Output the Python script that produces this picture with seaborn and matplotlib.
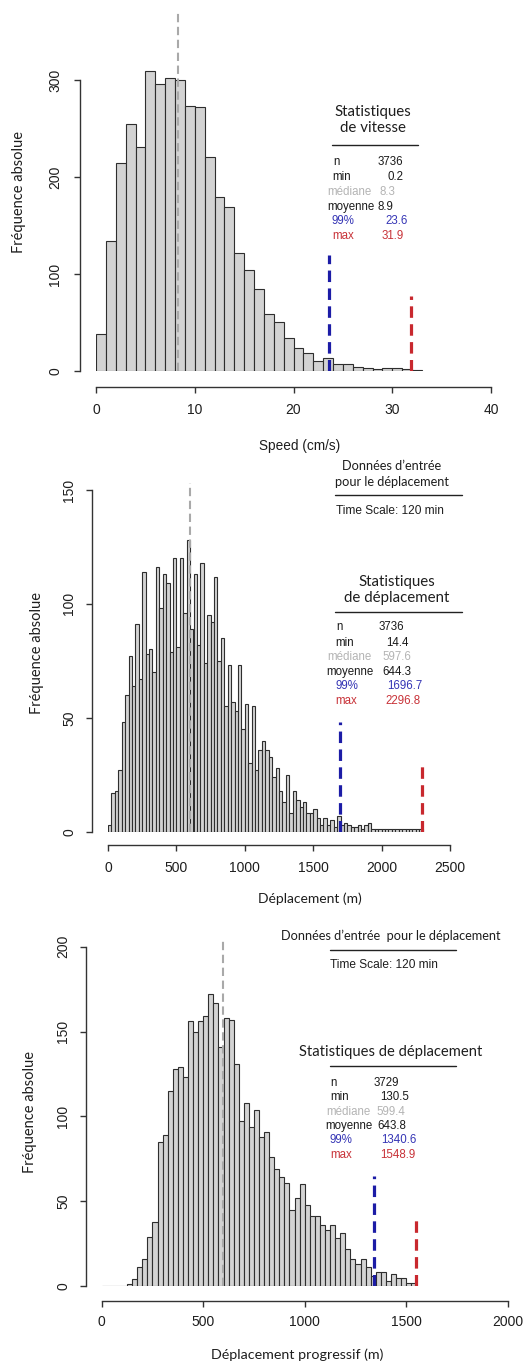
import numpy as np
import pandas as pd
import matplotlib
matplotlib.use("Agg")
import matplotlib.pyplot as plt
from matplotlib.lines import Line2D
import seaborn as sns

# ------------------------------------------------------------------ data
# speed histogram (1 cm/s bins starting at 0)
speed_bin_width = 1.0
speed_counts = [38, 134, 214, 255, 231, 309, 296, 302, 300, 273,
                272, 221, 179, 169, 122, 104, 85, 59, 50, 34,
                24, 19, 10, 13, 7, 7, 4, 3, 2, 3,
                3, 2, 1]

# displacement histogram (25 m bins starting at 0)
disp_bin_width = 25.0
disp_counts = [3, 17, 18, 27, 48, 60, 77, 64, 91, 67,
               114, 78, 80, 70, 116, 98, 113, 109, 79, 120,
               81, 120, 96, 128, 89, 113, 82, 118, 74, 95,
               92, 112, 75, 85, 55, 73, 57, 53, 73, 45,
               56, 30, 55, 27, 36, 40, 36, 33, 24, 28,
               18, 13, 25, 8, 18, 14, 11, 13, 8, 8,
               10, 6, 3, 6, 3, 5, 2, 7, 3, 4,
               3, 2, 2, 3, 1, 3, 4, 1, 1, 1,
               1, 1, 1, 1, 1, 1, 1, 1, 1, 1, 1, 1]

# progressive displacement histogram (25 m bins starting at 0)
prog_bin_width = 25.0
prog_counts = [0, 0, 0, 0, 0, 1, 4, 11, 16, 29,
               38, 85, 89, 115, 128, 129, 123, 156, 150, 156,
               159, 172, 167, 141, 158, 157, 131, 97, 108, 94,
               104, 88, 91, 76, 69, 64, 61, 45, 52, 60,
               48, 41, 41, 36, 33, 36, 28, 31, 22, 16,
               13, 16, 11, 6, 8, 8, 3, 7, 5, 5,
               2, 2]

stat_names = ["n", "min", "médiane", "moyenne", "99%", "max"]
speed_stats = ["3736", "0.2", "8.3", "8.9", "23.6", "31.9"]
disp_stats = ["3736", "14.4", "597.6", "644.3", "1696.7", "2296.8"]
prog_stats = ["3729", "130.5", "599.4", "643.8", "1340.6", "1548.9"]

# heights of the dashed marker lines (median, 99 %, max)
speed_marker_tops = [370, 120, 77]
disp_marker_tops = [153, 48, 31]
prog_marker_tops = [205, 65, 41]

speed_xticks = [0, 10, 20, 30, 40]
speed_yticks = [0, 100, 200, 300]
disp_xticks = [0, 500, 1000, 1500, 2000, 2500]
disp_yticks = [0, 50, 100, 150]
prog_xticks = [0, 500, 1000, 1500, 2000]
prog_yticks = [0, 50, 100, 150, 200]

y_title = "Fréquence absolue"
speed_xtitle = "Speed (cm/s)"
disp_xtitle = "Déplacement (m)"
prog_xtitle = "Déplacement progressif (m)"
speed_header = "Statistiques\nde vitesse"
disp_header = "Statistiques\nde déplacement"
prog_header = "Statistiques de déplacement"
input_header_two_lines = "Données d’entrée\npour le déplacement"
input_header_one_line = "Données d’entrée  pour le déplacement"
time_scale = "Time Scale: 120 min"

# ------------------------------------------------------------------ style
W, H = 523, 1365
DPI = 100
PT = 72.0 / DPI  # points per pixel

sns.set_theme(style="ticks")
plt.rcParams["font.family"] = ["Liberation Sans", "DejaVu Sans"]
SANS_HUMANIST = ["Lato", "DejaVu Sans"]

BAR_FILL = "#d3d3d3"
BAR_EDGE = "#2e2e2e"
AXIS_COL = "#333333"
TEXT_COL = "#1e1e1e"
MED_COL = "#a9a9a9"
P99_COL = "#1c1ca6"
MAX_COL = "#c8282e"
STAT_COLORS = ["#1a1a1a", "#1a1a1a", "#b4b4b4", "#1a1a1a", "#3535b5", "#c83238"]
LINE_COLORS = [MED_COL, P99_COL, MAX_COL]
STAT_SIZE = 8.3

fig = plt.figure(figsize=(W / DPI, H / DPI), dpi=DPI)
fig.patch.set_facecolor("white")


def fx(px):
    return px / W


def fy(py):
    return 1.0 - py / H


def make_axes(x_left, x_right, y_base, y_top):
    return fig.add_axes([fx(x_left), fy(y_base), (x_right - x_left) / W,
                         (y_base - y_top) / H])


def draw_panel(ax, counts, width, xlim, ylim, xticks, yticks, stats, tops,
               y_off, x_off, ypad, xpad):
    edges = [i * width for i in range(len(counts) + 1)]
    frame = pd.DataFrame({"center": [e + width / 2 for e in edges[:-1]],
                          "count": [float(c) for c in counts]})
    sns.histplot(data=frame, x="center", weights="count", bins=edges,
                 stat="count", color=BAR_FILL, edgecolor=BAR_EDGE,
                 linewidth=0.8, alpha=1, ax=ax, zorder=2)
    ax.set_xlim(*xlim)
    ax.set_ylim(*ylim)
    ax.set_xlabel("")
    ax.set_ylabel("")
    ax.set_facecolor("none")
    for side in ("top", "right"):
        ax.spines[side].set_visible(False)
    ax.spines["left"].set_position(("outward", y_off * PT))
    ax.spines["bottom"].set_position(("outward", x_off * PT))
    ax.spines["left"].set_bounds(yticks[0], yticks[-1])
    ax.spines["bottom"].set_bounds(xticks[0], xticks[-1])
    for side in ("left", "bottom"):
        ax.spines[side].set_color(AXIS_COL)
        ax.spines[side].set_linewidth(1.0)
    ax.set_xticks(xticks)
    ax.set_yticks(yticks)
    ax.set_xticklabels([str(t) for t in xticks])
    ax.set_yticklabels([str(t) for t in yticks], rotation=90, va="center")
    ax.tick_params(axis="both", length=6 * PT, width=1.0, color=AXIS_COL,
                   labelsize=10, labelcolor=TEXT_COL)
    ax.tick_params(axis="y", pad=ypad * PT)
    ax.tick_params(axis="x", pad=xpad * PT)
    ax.grid(False)
    # median / 99 % / max markers
    values = [float(stats[2]), float(stats[4]), float(stats[5])]
    widths = [1.5, 2.3, 2.3]
    dashes = [(4, 2.2), (3.6, 2.0), (3.6, 2.0)]
    for v, top, col, lw, ds in zip(values, tops, LINE_COLORS, widths, dashes):
        ax.plot([v, v], [0, top], color=col, lw=lw, dashes=ds, zorder=3,
                solid_capstyle="butt", dash_capstyle="butt")


def hline(x0, x1, y):
    fig.add_artist(Line2D([fx(x0), fx(x1)], [fy(y), fy(y)],
                          transform=fig.transFigure, color="#222222", lw=1.0))


def ftext(x, y, s, **kw):
    fig.text(fx(x), fy(y), s, **kw)


def stats_block(label_x, value_x, rows_y, values):
    for name, val, lx, vx, ry, col in zip(stat_names, values, label_x,
                                          value_x, rows_y, STAT_COLORS):
        ftext(lx, ry, name, ha="left", va="center", fontsize=STAT_SIZE,
              color=col)
        ftext(vx, ry, val, ha="left", va="center", fontsize=STAT_SIZE,
              color=col)


# ------------------------------------------------------------------ panel 1
ax1 = make_axes(96, 491, 371, 371 - 375 * 0.97)
draw_panel(ax1, speed_counts, speed_bin_width, (0, 40), (0, 375),
           speed_xticks, speed_yticks, speed_stats, speed_marker_tops,
           y_off=16, x_off=16, ypad=12, xpad=10)
ftext(19, 192, y_title, rotation=90, ha="center", va="center",
      fontsize=10.5, family=SANS_HUMANIST, color=TEXT_COL)
ftext(300, 446, speed_xtitle, ha="center", va="center", fontsize=9.8,
      color=TEXT_COL)
ftext(373, 120, speed_header, ha="center", va="center", fontsize=10.8,
      family=SANS_HUMANIST, color=TEXT_COL, linespacing=1.2)
hline(332, 418, 145)
stats_block([333, 332, 327, 327, 332, 332],
            [378, 388, 380, 378, 385, 382],
            [162, 177, 192, 207, 221, 236], speed_stats)

# ------------------------------------------------------------------ panel 2
ax2 = make_axes(108, 450, 831.7, 831.7 - 160 * 2.278)
draw_panel(ax2, disp_counts, disp_bin_width, (0, 2500), (0, 160),
           disp_xticks, disp_yticks, disp_stats, disp_marker_tops,
           y_off=16, x_off=13, ypad=10, xpad=10)
ftext(37, 653, y_title, rotation=90, ha="center", va="center",
      fontsize=10.5, family=SANS_HUMANIST, color=TEXT_COL)
ftext(310, 899, disp_xtitle, ha="center", va="center", fontsize=10,
      family=SANS_HUMANIST, color=TEXT_COL)
ftext(392, 474, input_header_two_lines, ha="center", va="center",
      fontsize=9.2, family=SANS_HUMANIST, color=TEXT_COL, linespacing=1.3)
hline(335, 462, 495)
ftext(336, 511, time_scale, ha="left", va="center", fontsize=8.6,
      color=TEXT_COL)
ftext(397, 590, disp_header, ha="center", va="center", fontsize=10.8,
      family=SANS_HUMANIST, color=TEXT_COL, linespacing=1.2)
hline(335, 462, 612)
stats_block([336, 335, 327, 326, 336, 335],
            [379, 386, 382, 382, 387, 385],
            [627, 643, 657, 672, 686, 701], disp_stats)

# ------------------------------------------------------------------ panel 3
ax3 = make_axes(101.7, 507.7, 1286, 1286 - 210 * 1.6965)
draw_panel(ax3, prog_counts, prog_bin_width, (0, 2000), (0, 210),
           prog_xticks, prog_yticks, prog_stats, prog_marker_tops,
           y_off=15.7, x_off=14.7, ypad=10, xpad=8.5)
ftext(30, 1112, y_title, rotation=90, ha="center", va="center",
      fontsize=10.5, family=SANS_HUMANIST, color=TEXT_COL)
ftext(297, 1355, prog_xtitle, ha="center", va="center", fontsize=10.3,
      family=SANS_HUMANIST, color=TEXT_COL)
ftext(391, 936, input_header_one_line, ha="center", va="center",
      fontsize=9.2, family=SANS_HUMANIST, color=TEXT_COL)
hline(330, 456, 949.5)
ftext(330, 965, time_scale, ha="left", va="center", fontsize=8.6,
      color=TEXT_COL)
ftext(391, 1052, prog_header, ha="center", va="center", fontsize=10.6,
      family=SANS_HUMANIST, color=TEXT_COL)
hline(330, 456, 1066)
stats_block([330, 330, 326, 325, 330, 330],
            [374, 380, 376, 377, 381, 380],
            [1083, 1097, 1112, 1126, 1140, 1155], prog_stats)

fig.savefig("out.png", dpi=DPI, facecolor="white")
